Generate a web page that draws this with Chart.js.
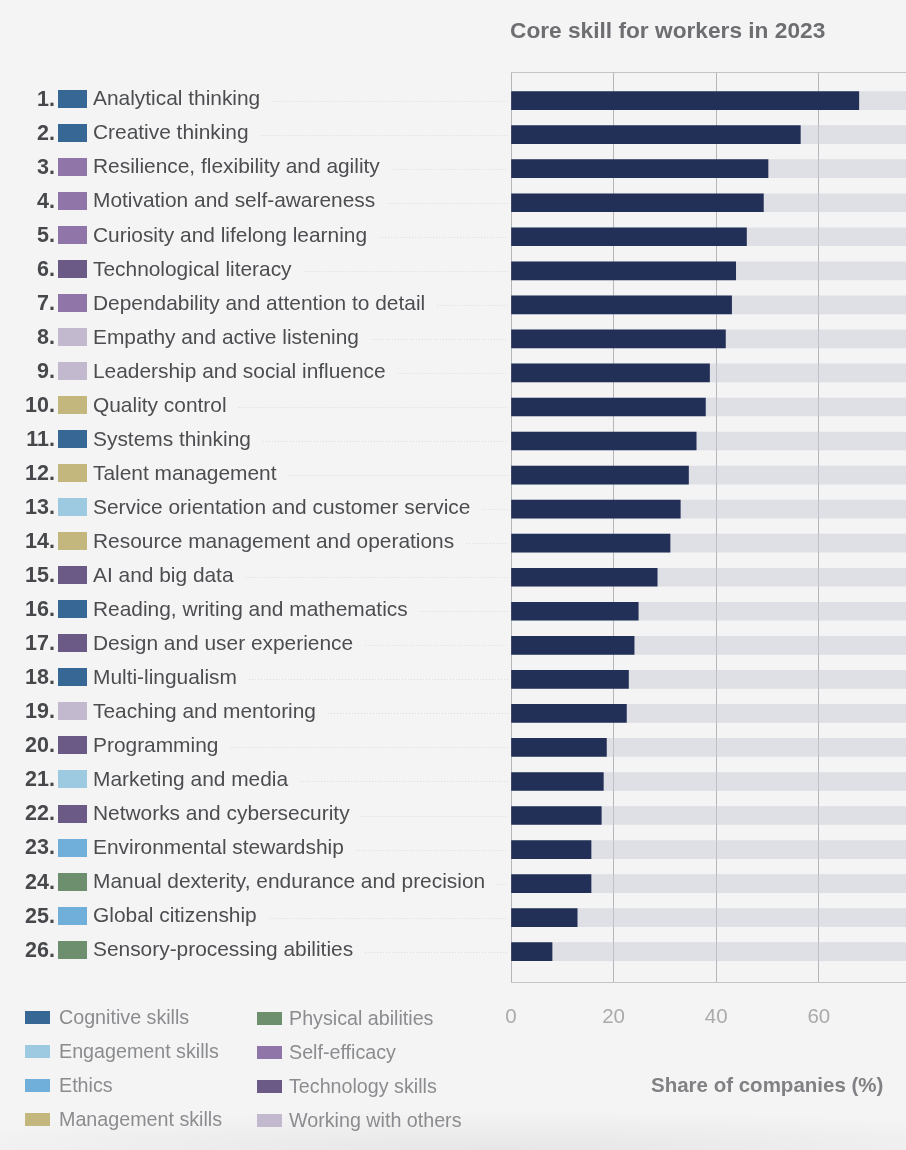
<!DOCTYPE html>
<html>
<head>
<meta charset="utf-8">
<title>Core skill for workers in 2023</title>
<script src="https://cdn.jsdelivr.net/npm/chart.js@4"></script>
<style>
  html, body { margin: 0; padding: 0; }
  body { width: 906px; height: 1150px; position: relative; overflow: hidden; background: #f4f4f4;
    font-family: "Liberation Sans", Arial, sans-serif; }
  #shade { position: absolute; left: 0; right: 0; bottom: 0; height: 40px;
    background: radial-gradient(ellipse 70% 100% at 55% 100%, #e6e6e6, rgba(244,244,244,0)); }
  #chart { position: absolute; left: 0; top: 0; }
  #title { position: absolute; left: 510px; top: 17px; font-size: 22.7px; font-weight: 700; color: #6d6e71; white-space: nowrap; }
  #axisTitle { position: absolute; left: 651px; top: 1073px; font-size: 20.5px; font-weight: 700; color: #808184; white-space: nowrap; }
  #legend .item { position: absolute; font-size: 19.7px; line-height: 24px; color: #8b8c8f; white-space: nowrap; }
  #legend .swatch { position: absolute; top: 6px; width: 25px; height: 13px; }
</style>
</head>
<body>
<div id="shade"></div>
<canvas id="chart" width="906" height="1150"></canvas>
<div id="title">Core skill for workers in 2023</div>
<div id="axisTitle">Share of companies (%)</div>
<div id="legend"></div>
<script>
const skills = [
  'Analytical thinking', 'Creative thinking', 'Resilience, flexibility and agility',
  'Motivation and self-awareness', 'Curiosity and lifelong learning', 'Technological literacy',
  'Dependability and attention to detail', 'Empathy and active listening', 'Leadership and social influence',
  'Quality control', 'Systems thinking', 'Talent management',
  'Service orientation and customer service', 'Resource management and operations', 'AI and big data',
  'Reading, writing and mathematics', 'Design and user experience', 'Multi-lingualism',
  'Teaching and mentoring', 'Programming', 'Marketing and media',
  'Networks and cybersecurity', 'Environmental stewardship', 'Manual dexterity, endurance and precision',
  'Global citizenship', 'Sensory-processing abilities'
];
const shares = [67.8, 56.4, 50.1, 49.2, 45.9, 43.8, 43, 41.8, 38.7, 37.9, 36.1, 34.6, 33, 31, 28.5, 24.8, 24, 22.9, 22.5, 18.6, 18, 17.6, 15.6, 15.6, 12.9, 8];
const skillGroups = [
  'Cognitive skills', 'Cognitive skills', 'Self-efficacy', 'Self-efficacy', 'Self-efficacy', 'Technology skills',
  'Self-efficacy', 'Working with others', 'Working with others', 'Management skills', 'Cognitive skills', 'Management skills',
  'Engagement skills', 'Management skills', 'Technology skills', 'Cognitive skills', 'Technology skills', 'Cognitive skills',
  'Working with others', 'Technology skills', 'Engagement skills', 'Technology skills', 'Ethics', 'Physical abilities',
  'Ethics', 'Physical abilities'
];
const groupNames = ['Cognitive skills', 'Engagement skills', 'Ethics', 'Management skills', 'Physical abilities', 'Self-efficacy', 'Technology skills', 'Working with others'];
const groupColors = ['#366795', '#9ecae1', '#70afd9', '#c3b77e', '#6e8f6e', '#8f75a8', '#6b5a85', '#c3b9cf'];
const xTicks = [0, 20, 40, 60];

const colorOf = (name) => groupColors[groupNames.indexOf(name)];

// top edge of the plot, the x scale only gives us the bottom one
const plotFrame = {
  id: 'plotFrame',
  beforeDatasetsDraw(chart) {
    const { ctx, chartArea: a } = chart;
    ctx.save();
    ctx.fillStyle = '#c4c4c6';
    ctx.fillRect(a.left, a.top, a.right - a.left, 1);
    ctx.restore();
  }
};

// rank, swatch, name and dotted leader for each row, placed from the y scale
const rowLabels = {
  id: 'rowLabels',
  afterDraw(chart) {
    const { ctx, scales: { y } } = chart;
    ctx.save();
    ctx.textBaseline = 'middle';
    skills.forEach((name, i) => {
      const py = y.getPixelForValue(i);
      ctx.font = 'bold 21.5px "Liberation Sans"';
      ctx.fillStyle = '#47484b';
      ctx.textAlign = 'right';
      ctx.fillText(`${i + 1}.`, 55, py - 1);

      ctx.fillStyle = colorOf(skillGroups[i]);
      ctx.fillRect(58, Math.round(py) - 11, 29, 18);

      ctx.font = '20.9px "Liberation Sans"';
      ctx.fillStyle = '#4c4d50';
      ctx.textAlign = 'left';
      ctx.fillText(name, 93, py - 1);

      const end = 93 + ctx.measureText(name).width + 12;
      ctx.fillStyle = '#dcdcde';
      for (let dot = end; dot < 508; dot += 3) ctx.fillRect(dot, Math.round(py), 1, 1);
    });
    ctx.restore();
  }
};

new Chart(document.getElementById('chart'), {
  type: 'bar',
  data: {
    datasets: [
      {
        data: shares.map((v, i) => ({ x: v, y: i })),
        backgroundColor: '#222f57',
        order: 1
      },
      {
        data: shares.map((v, i) => ({ x: 100, y: i })),
        backgroundColor: 'rgba(202,204,214,0.5)',
        order: 2
      }
    ]
  },
  options: {
    indexAxis: 'y',
    responsive: false,
    animation: false,
    devicePixelRatio: 1,
    layout: { padding: { left: 511, top: 72, right: 0, bottom: 0 } },
    datasets: { bar: { grouped: false, barThickness: 18 } },
    plugins: { legend: { display: false }, tooltip: { enabled: false } },
    scales: {
      x: {
        type: 'linear',
        min: 0,
        max: 77,
        afterBuildTicks: (axis) => { axis.ticks = xTicks.map((value) => ({ value })); },
        afterFit: (axis) => { axis.height = 168; },
        grid: { color: '#b6b6ba', lineWidth: 1, drawTicks: false },
        border: { color: '#c4c4c6', width: 1 },
        ticks: { color: '#a9aaac', padding: 23, maxRotation: 0, autoSkip: false, font: { family: '"Liberation Sans"', size: 20.5 } }
      },
      y: {
        type: 'linear',
        reverse: true,
        offset: false,
        min: -0.84,
        max: 25.89,
        display: false
      }
    }
  },
  plugins: [plotFrame, rowLabels]
});

// legend in two columns of four, same colours as the row swatches
const legendEl = document.getElementById('legend');
groupNames.forEach((name, i) => {
  const col = i < 4 ? 0 : 1;
  const row = i % 4;
  const item = document.createElement('div');
  item.className = 'item';
  item.style.left = col ? '289px' : '59px';
  item.style.top = `${1005 + row * 34 + col}px`;
  item.textContent = name;
  const sw = document.createElement('span');
  sw.className = 'swatch';
  sw.style.left = col ? '-32px' : '-34px';
  sw.style.background = groupColors[i];
  item.appendChild(sw);
  legendEl.appendChild(item);
});
</script>
</body>
</html>
